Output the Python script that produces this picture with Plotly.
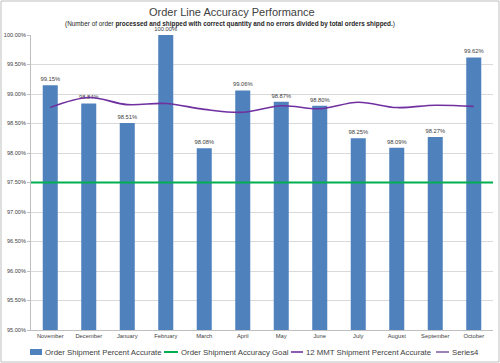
import plotly.graph_objects as go

months = ["November", "December", "January", "February", "March", "April",
          "May", "June", "July", "August", "September", "October"]
accuracy = [99.15, 98.84, 98.51, 100.00, 98.08, 99.06, 98.87, 98.80, 98.25, 98.09, 98.27, 99.62]
goal = [97.5] * 12
mmt = [98.77, 98.94, 98.82, 98.84, 98.74, 98.69, 98.80, 98.75, 98.86, 98.77, 98.81, 98.79]
yticks = [95.0 + 0.5 * i for i in range(11)]

names = ["Order Shipment Percent Accurate", "Order Shipment Accuracy Goal",
         "12 MMT Shipment Percent Accurate", "Series4"]
colors = ["#4F81BD", "#00B050", "#7030A0", "#8064A2"]

L, R, T, B = 31, 7, 35, 33
W, H = 500, 363
pw, ph = W - L - R, H - T - B


def px(X):
    return (X - L) / pw


def py(Y):
    return (ph + T - Y) / ph


fig = go.Figure()
fig.add_trace(go.Bar(
    x=list(range(12)), y=accuracy, name=names[0],
    marker=dict(color=colors[0], line=dict(width=0)), width=0.39,
    text=[f"{v:.2f}%" for v in accuracy], textposition="outside",
    constraintext="none",
    textfont=dict(size=5.8, color="#404040", family="Liberation Sans"),
    cliponaxis=False))
fig.add_trace(go.Scatter(
    x=list(range(12)), y=goal, xaxis="x2", mode="lines",
    name=names[1], line=dict(color=colors[1], width=2)))
fig.add_trace(go.Scatter(
    x=list(range(12)), y=mmt, mode="lines", line_shape="spline",
    name=names[2], line=dict(color=colors[2], width=1.6)))
fig.add_trace(go.Scatter(
    x=[None], y=[None], mode="lines", name=names[3],
    line=dict(color=colors[3], width=1.6)))

shapes = [dict(type="rect", xref="paper", yref="paper",
               x0=px(1), x1=px(W - 1), y0=py(H - 1), y1=py(1),
               line=dict(color="#BFBFBF", width=1), layer="below")]
annotations = [
    dict(text="Order Line Accuracy Performance", xref="paper", yref="paper",
         x=px(231.5), y=py(12), xanchor="center", yanchor="middle",
         showarrow=False, font=dict(size=11, color="#404040")),
    dict(text="(Number of order <b>processed and shipped with correct quantity and no errors divided by total orders shipped.</b>)",
         xref="paper", yref="paper", x=px(230), y=py(23.5),
         xanchor="center", yanchor="middle", showarrow=False,
         font=dict(size=6.4, color="#262626")),
]

# legend drawn manually to fit in one row like the original
sym = [(30, 42), (164, 178), (291, 303), (436, 449)]
ly = 352
for i, (a, b) in enumerate(sym):
    if i == 0:
        shapes.append(dict(type="rect", xref="paper", yref="paper",
                           x0=px(a), x1=px(b), y0=py(ly + 3), y1=py(ly - 3),
                           fillcolor=colors[i], line=dict(width=0)))
    else:
        shapes.append(dict(type="line", xref="paper", yref="paper",
                           x0=px(a), x1=px(b), y0=py(ly), y1=py(ly),
                           line=dict(color=colors[i], width=2 if i == 1 else 1.6)))
    annotations.append(dict(text=names[i], xref="paper", yref="paper",
                            x=px(b + 0.5), y=py(ly), xanchor="left", yanchor="middle",
                            showarrow=False, font=dict(size=7.8, color="#404040")))

fig.update_layout(
    width=W, height=H,
    margin=dict(l=L, r=R, t=T, b=B, autoexpand=False),
    paper_bgcolor="white", plot_bgcolor="white",
    font=dict(family="Liberation Sans", color="#404040"),
    showlegend=False,
    xaxis=dict(range=[-0.5, 11.5], tickmode="array", tickvals=list(range(12)),
               ticktext=months, tickfont=dict(size=5.8, color="#404040"),
               showgrid=False, showline=True, linecolor="#BFBFBF", linewidth=1,
               ticks="", zeroline=False, automargin=False),
    xaxis2=dict(range=[0, 11], overlaying="x", visible=False),
    yaxis=dict(range=[95, 100], tickmode="array", tickvals=yticks,
               ticktext=[f"{v:.2f}%" for v in yticks],
               tickfont=dict(size=5.6, color="#404040"),
               showgrid=True, gridcolor="#D9D9D9", gridwidth=1,
               showline=True, linecolor="#BFBFBF", ticks="outside",
               ticklen=3, tickcolor="#BFBFBF", zeroline=False, automargin=False),
    shapes=shapes,
    annotations=annotations,
)

fig.write_html("out.html", config={"displayModeBar": False},
               post_script="document.body.style.margin='0';document.body.style.overflow='hidden';")
